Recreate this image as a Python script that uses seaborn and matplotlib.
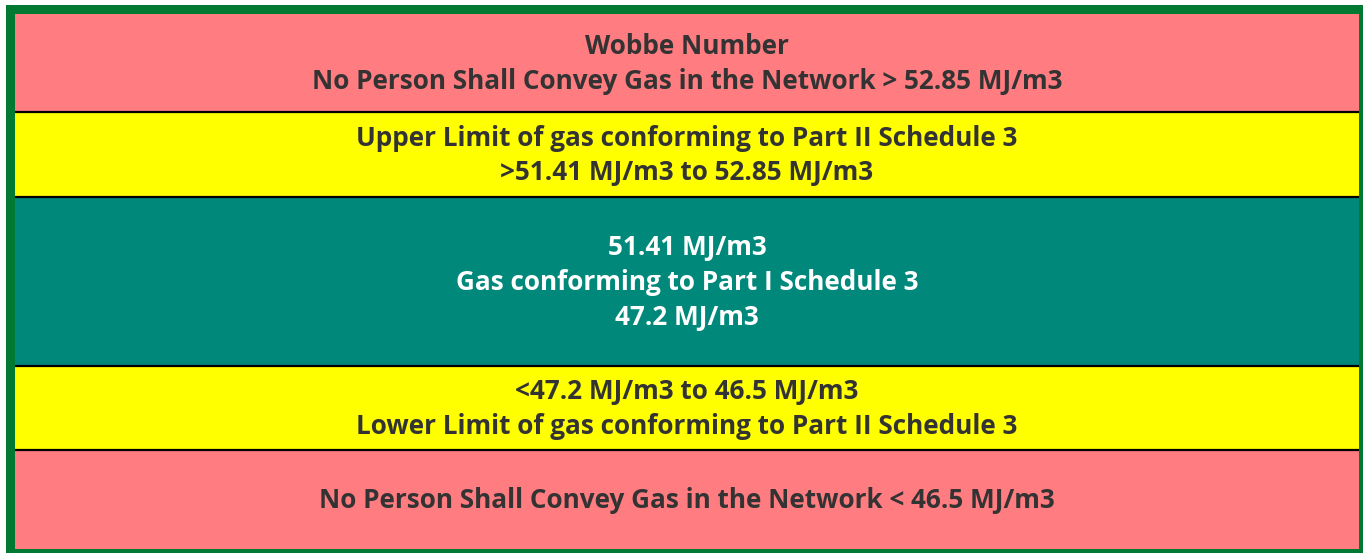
import matplotlib
matplotlib.use("Agg")
import matplotlib.pyplot as plt
import matplotlib.patches as mpatches
import seaborn as sns

# band texts, top to bottom
band_labels = [
    "Wobbe Number\nNo Person Shall Convey Gas in the Network > 52.85 MJ/m3",
    "Upper Limit of gas conforming to Part II Schedule 3\n>51.41 MJ/m3 to 52.85 MJ/m3",
    "51.41 MJ/m3\nGas conforming to Part I Schedule 3\n47.2 MJ/m3",
    "<47.2 MJ/m3 to 46.5 MJ/m3\nLower Limit of gas conforming to Part II Schedule 3",
    "No Person Shall Convey Gas in the Network < 46.5 MJ/m3",
]
band_colors = ["#FF7C80", "#FFFF00", "#00887A", "#FFFF00", "#FF7C80"]
text_colors = ["#333333", "#333333", "#FFFFFF", "#333333", "#333333"]

sns.set_theme(style="white")
plt.rcParams["font.family"] = ["Open Sans", "DejaVu Sans"]

W, H = 1363, 553
fig = plt.figure(figsize=(W / 100, H / 100), dpi=100)
fig.patch.set_facecolor("white")

# green frame
fig.patches.append(mpatches.Rectangle((6 / W, 0), 1 - 6 / W, 1 - 5 / H,
                                      transform=fig.transFigure,
                                      facecolor="#007A33", edgecolor="none", zorder=0))

ax = fig.add_axes([15 / W, 4 / H, (1359 - 15) / W, (549 - 14) / H])
ax.set_zorder(1)

# band heights in pixel units of the inner area
heights = [98, 85, 169, 84, 99]
bottoms = [sum(heights[:i]) for i in range(len(heights))]
ax.barh(y=[b + h / 2 for b, h in zip(bottoms, heights)], width=1, height=heights,
        left=0, color=band_colors, edgecolor="none", align="center")

for b, h, lab, tc in zip(bottoms, heights, band_labels, text_colors):
    ax.text(0.5, b + h / 2 + 1, lab, ha="center", va="center", color=tc,
            fontsize=18.8, fontweight="bold", linespacing=1.37)

for b in bottoms[1:]:
    ax.axhline(b, color="black", lw=1.6)

ax.set_xlim(0, 1)
ax.set_ylim(sum(heights), 0)
ax.axis("off")

fig.savefig("out.png", dpi=100, facecolor="white")
